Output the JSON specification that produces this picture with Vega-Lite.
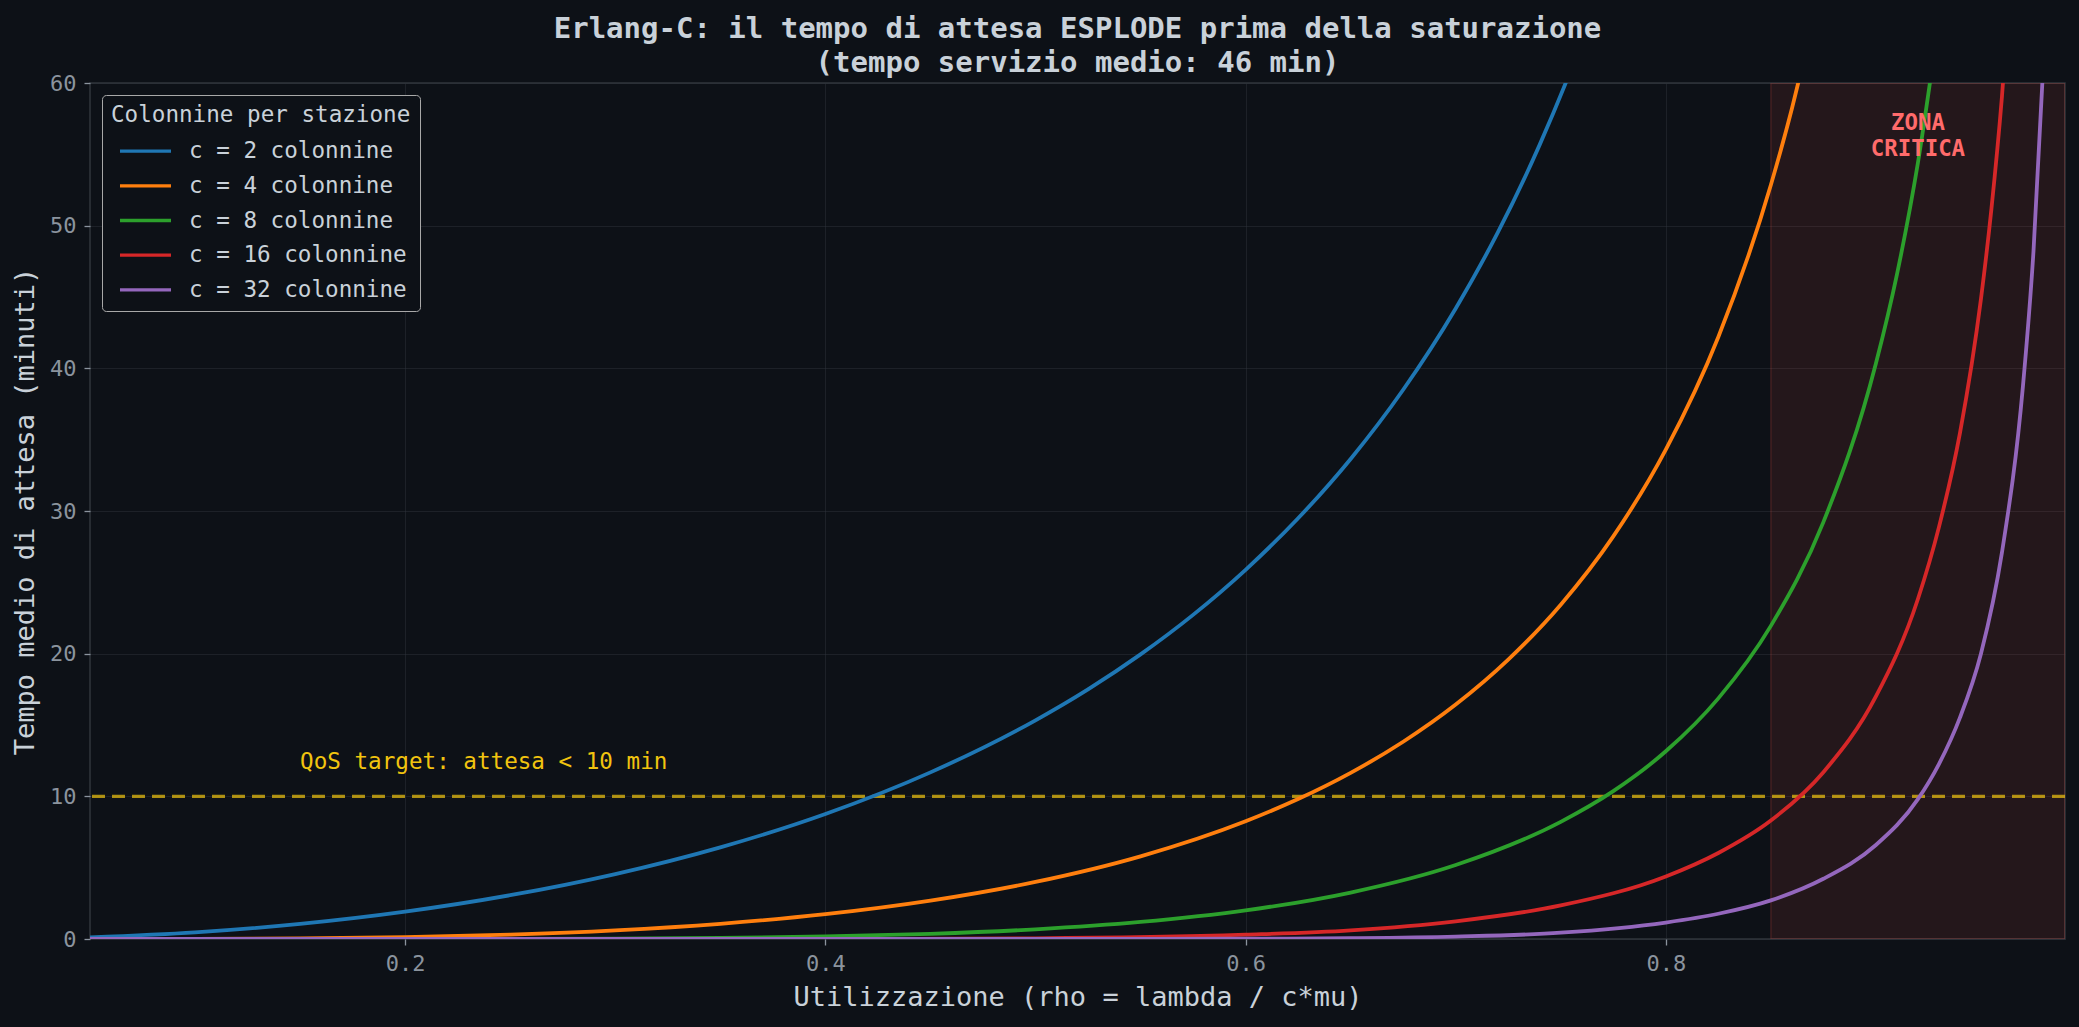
{
  "$schema": "https://vega.github.io/schema/vega-lite/v6.json",
  "width": 1975,
  "height": 856,
  "autosize": {"type": "none"},
  "padding": {"left": 90, "top": 83, "right": 14, "bottom": 88},
  "background": "#0d1117",
  "title": {
    "text": ["Erlang-C: il tempo di attesa ESPLODE prima della saturazione", "(tempo servizio medio: 46 min)"],
    "anchor": "middle",
    "frame": "group",
    "font": "DejaVu Sans Mono",
    "fontSize": 29,
    "fontWeight": "bold",
    "color": "#c9d1d9",
    "lineHeight": 34.5,
    "offset": -6
  },
  "config": {
    "font": "DejaVu Sans Mono",
    "view": {"stroke": "#30363d", "strokeWidth": 1.5, "fill": "#0d1117"},
    "axis": {
      "domain": false,
      "grid": true,
      "gridColor": "#30363d",
      "gridOpacity": 0.45,
      "gridWidth": 1,
      "tickColor": "#8b949e",
      "tickSize": 6,
      "tickWidth": 1.3,
      "labelColor": "#8b949e",
      "labelFont": "DejaVu Sans Mono",
      "labelFontSize": 22,
      "labelPadding": 8,
      "labelFlush": false,
      "titleColor": "#c9d1d9",
      "titleFont": "DejaVu Sans Mono",
      "titleFontSize": 27,
      "titleFontWeight": "normal",
      "titlePadding": 10
    }
  },
  "datasets": {
    "curve": [
      {"rho": 0.05, "wq": 0.115, "serie": "c = 2 colonnine"},
      {"rho": 0.1, "wq": 0.465, "serie": "c = 2 colonnine"},
      {"rho": 0.15, "wq": 1.059, "serie": "c = 2 colonnine"},
      {"rho": 0.2, "wq": 1.917, "serie": "c = 2 colonnine"},
      {"rho": 0.25, "wq": 3.067, "serie": "c = 2 colonnine"},
      {"rho": 0.3, "wq": 4.549, "serie": "c = 2 colonnine"},
      {"rho": 0.35, "wq": 6.422, "serie": "c = 2 colonnine"},
      {"rho": 0.4, "wq": 8.762, "serie": "c = 2 colonnine"},
      {"rho": 0.45, "wq": 11.68, "serie": "c = 2 colonnine"},
      {"rho": 0.5, "wq": 15.33, "serie": "c = 2 colonnine"},
      {"rho": 0.525, "wq": 17.5, "serie": "c = 2 colonnine"},
      {"rho": 0.55, "wq": 19.95, "serie": "c = 2 colonnine"},
      {"rho": 0.575, "wq": 22.72, "serie": "c = 2 colonnine"},
      {"rho": 0.6, "wq": 25.88, "serie": "c = 2 colonnine"},
      {"rho": 0.625, "wq": 29.49, "serie": "c = 2 colonnine"},
      {"rho": 0.65, "wq": 33.65, "serie": "c = 2 colonnine"},
      {"rho": 0.675, "wq": 38.5, "serie": "c = 2 colonnine"},
      {"rho": 0.7, "wq": 44.2, "serie": "c = 2 colonnine"},
      {"rho": 0.72, "wq": 49.51, "serie": "c = 2 colonnine"},
      {"rho": 0.74, "wq": 55.68, "serie": "c = 2 colonnine"},
      {"rho": 0.76, "wq": 62.9, "serie": "c = 2 colonnine"},
      {"rho": 0.78, "wq": 71.47, "serie": "c = 2 colonnine"},

      {"rho": 0.05, "wq": 0.001, "serie": "c = 4 colonnine"},
      {"rho": 0.1, "wq": 0.01, "serie": "c = 4 colonnine"},
      {"rho": 0.15, "wq": 0.047, "serie": "c = 4 colonnine"},
      {"rho": 0.2, "wq": 0.138, "serie": "c = 4 colonnine"},
      {"rho": 0.25, "wq": 0.313, "serie": "c = 4 colonnine"},
      {"rho": 0.3, "wq": 0.609, "serie": "c = 4 colonnine"},
      {"rho": 0.35, "wq": 1.067, "serie": "c = 4 colonnine"},
      {"rho": 0.4, "wq": 1.738, "serie": "c = 4 colonnine"},
      {"rho": 0.45, "wq": 2.688, "serie": "c = 4 colonnine"},
      {"rho": 0.5, "wq": 4.0, "serie": "c = 4 colonnine"},
      {"rho": 0.55, "wq": 5.796, "serie": "c = 4 colonnine"},
      {"rho": 0.6, "wq": 8.253, "serie": "c = 4 colonnine"},
      {"rho": 0.625, "wq": 9.809, "serie": "c = 4 colonnine"},
      {"rho": 0.65, "wq": 11.645, "serie": "c = 4 colonnine"},
      {"rho": 0.675, "wq": 13.825, "serie": "c = 4 colonnine"},
      {"rho": 0.7, "wq": 16.432, "serie": "c = 4 colonnine"},
      {"rho": 0.725, "wq": 19.581, "serie": "c = 4 colonnine"},
      {"rho": 0.75, "wq": 23.43, "serie": "c = 4 colonnine"},
      {"rho": 0.775, "wq": 28.22, "serie": "c = 4 colonnine"},
      {"rho": 0.8, "wq": 34.3, "serie": "c = 4 colonnine"},
      {"rho": 0.825, "wq": 42.2, "serie": "c = 4 colonnine"},
      {"rho": 0.85, "wq": 52.85, "serie": "c = 4 colonnine"},
      {"rho": 0.86, "wq": 58.2, "serie": "c = 4 colonnine"},
      {"rho": 0.87, "wq": 64.4, "serie": "c = 4 colonnine"},

      {"rho": 0.05, "wq": 0, "serie": "c = 8 colonnine"},
      {"rho": 0.1, "wq": 0, "serie": "c = 8 colonnine"},
      {"rho": 0.2, "wq": 0.002, "serie": "c = 8 colonnine"},
      {"rho": 0.25, "wq": 0.009, "serie": "c = 8 colonnine"},
      {"rho": 0.3, "wq": 0.029, "serie": "c = 8 colonnine"},
      {"rho": 0.35, "wq": 0.08, "serie": "c = 8 colonnine"},
      {"rho": 0.4, "wq": 0.177, "serie": "c = 8 colonnine"},
      {"rho": 0.45, "wq": 0.362, "serie": "c = 8 colonnine"},
      {"rho": 0.5, "wq": 0.679, "serie": "c = 8 colonnine"},
      {"rho": 0.55, "wq": 1.195, "serie": "c = 8 colonnine"},
      {"rho": 0.6, "wq": 2.006, "serie": "c = 8 colonnine"},
      {"rho": 0.65, "wq": 3.258, "serie": "c = 8 colonnine"},
      {"rho": 0.7, "wq": 5.187, "serie": "c = 8 colonnine"},
      {"rho": 0.75, "wq": 8.211, "serie": "c = 8 colonnine"},
      {"rho": 0.775, "wq": 10.363, "serie": "c = 8 colonnine"},
      {"rho": 0.8, "wq": 13.157, "serie": "c = 8 colonnine"},
      {"rho": 0.825, "wq": 16.867, "serie": "c = 8 colonnine"},
      {"rho": 0.85, "wq": 21.948, "serie": "c = 8 colonnine"},
      {"rho": 0.875, "wq": 29.22, "serie": "c = 8 colonnine"},
      {"rho": 0.9, "wq": 40.34, "serie": "c = 8 colonnine"},
      {"rho": 0.91, "wq": 46.57, "serie": "c = 8 colonnine"},
      {"rho": 0.92, "wq": 54.41, "serie": "c = 8 colonnine"},
      {"rho": 0.93, "wq": 64.52, "serie": "c = 8 colonnine"},

      {"rho": 0.05, "wq": 0, "serie": "c = 16 colonnine"},
      {"rho": 0.3, "wq": 0, "serie": "c = 16 colonnine"},
      {"rho": 0.4, "wq": 0.005, "serie": "c = 16 colonnine"},
      {"rho": 0.5, "wq": 0.05, "serie": "c = 16 colonnine"},
      {"rho": 0.6, "wq": 0.301, "serie": "c = 16 colonnine"},
      {"rho": 0.65, "wq": 0.605, "serie": "c = 16 colonnine"},
      {"rho": 0.7, "wq": 1.243, "serie": "c = 16 colonnine"},
      {"rho": 0.75, "wq": 2.353, "serie": "c = 16 colonnine"},
      {"rho": 0.8, "wq": 4.383, "serie": "c = 16 colonnine"},
      {"rho": 0.825, "wq": 6.03, "serie": "c = 16 colonnine"},
      {"rho": 0.85, "wq": 8.303, "serie": "c = 16 colonnine"},
      {"rho": 0.875, "wq": 11.695, "serie": "c = 16 colonnine"},
      {"rho": 0.9, "wq": 17.0, "serie": "c = 16 colonnine"},
      {"rho": 0.92, "wq": 23.83, "serie": "c = 16 colonnine"},
      {"rho": 0.93, "wq": 28.87, "serie": "c = 16 colonnine"},
      {"rho": 0.94, "wq": 35.46, "serie": "c = 16 colonnine"},
      {"rho": 0.95, "wq": 44.86, "serie": "c = 16 colonnine"},
      {"rho": 0.955, "wq": 51.2, "serie": "c = 16 colonnine"},
      {"rho": 0.96, "wq": 59.06, "serie": "c = 16 colonnine"},
      {"rho": 0.965, "wq": 69.2, "serie": "c = 16 colonnine"},

      {"rho": 0.05, "wq": 0, "serie": "c = 32 colonnine"},
      {"rho": 0.5, "wq": 0, "serie": "c = 32 colonnine"},
      {"rho": 0.6, "wq": 0.02, "serie": "c = 32 colonnine"},
      {"rho": 0.65, "wq": 0.06, "serie": "c = 32 colonnine"},
      {"rho": 0.7, "wq": 0.17, "serie": "c = 32 colonnine"},
      {"rho": 0.75, "wq": 0.44, "serie": "c = 32 colonnine"},
      {"rho": 0.8, "wq": 1.155, "serie": "c = 32 colonnine"},
      {"rho": 0.825, "wq": 1.77, "serie": "c = 32 colonnine"},
      {"rho": 0.85, "wq": 2.706, "serie": "c = 32 colonnine"},
      {"rho": 0.875, "wq": 4.22, "serie": "c = 32 colonnine"},
      {"rho": 0.9, "wq": 6.587, "serie": "c = 32 colonnine"},
      {"rho": 0.92, "wq": 9.8, "serie": "c = 32 colonnine"},
      {"rho": 0.93, "wq": 12.26, "serie": "c = 32 colonnine"},
      {"rho": 0.94, "wq": 15.52, "serie": "c = 32 colonnine"},
      {"rho": 0.95, "wq": 20.0, "serie": "c = 32 colonnine"},
      {"rho": 0.96, "wq": 27.1, "serie": "c = 32 colonnine"},
      {"rho": 0.97, "wq": 38.78, "serie": "c = 32 colonnine"},
      {"rho": 0.975, "wq": 48.2, "serie": "c = 32 colonnine"},
      {"rho": 0.98, "wq": 62.2, "serie": "c = 32 colonnine"}
    ]
  },
  "layer": [
    {
      "data": {"values": [{"rho": 0.85, "rho_fine": 0.99}]},
      "mark": {"type": "rect", "fill": "#f85149", "fillOpacity": 0.1, "stroke": "#f85149", "strokeOpacity": 0.18, "strokeWidth": 1.5, "clip": true},
      "encoding": {
        "x": {"field": "rho", "type": "quantitative", "scale": {"domain": [0.05, 0.99], "nice": false, "zero": false}, "axis": {"values": [0.2, 0.4, 0.6, 0.8], "format": ".1f"}, "title": "Utilizzazione (rho = lambda / c*mu)"},
        "x2": {"field": "rho_fine"},
        "y": {"datum": 0, "type": "quantitative", "scale": {"domain": [0, 60], "nice": false}, "axis": {"values": [0, 10, 20, 30, 40, 50, 60], "format": "d"}, "title": "Tempo medio di attesa (minuti)"},
        "y2": {"datum": 60}
      }
    },
    {
      "data": {"values": [{"wq": 10}]},
      "mark": {"type": "rule", "stroke": "#f1c40f", "strokeOpacity": 0.7, "strokeWidth": 3.3, "strokeDash": [13, 7]},
      "encoding": {
        "y": {"field": "wq", "type": "quantitative", "title": "Tempo medio di attesa (minuti)"}
      }
    },
    {
      "data": {"name": "curve"},
      "mark": {"type": "line", "strokeWidth": 3.8, "interpolate": "monotone", "clip": true},
      "encoding": {
        "x": {"field": "rho", "type": "quantitative", "title": "Utilizzazione (rho = lambda / c*mu)"},
        "y": {"field": "wq", "type": "quantitative", "title": "Tempo medio di attesa (minuti)"},
        "color": {
          "field": "serie",
          "type": "nominal",
          "scale": {
            "domain": ["c = 2 colonnine", "c = 4 colonnine", "c = 8 colonnine", "c = 16 colonnine", "c = 32 colonnine"],
            "range": ["#1f77b4", "#ff7f0e", "#2ca02c", "#d62728", "#9467bd"]
          },
          "legend": {
            "orient": "top-left",
            "offset": 12,
            "title": "Colonnine per stazione",
            "titleFont": "DejaVu Sans Mono",
            "titleFontSize": 22.6,
            "titleFontWeight": "normal",
            "titleColor": "#c9d1d9",
            "titlePadding": 5,
            "titleLimit": 500,
            "labelFont": "DejaVu Sans Mono",
            "labelFontSize": 22.6,
            "labelColor": "#c9d1d9",
            "labelLimit": 500,
            "symbolType": "M-1.457,0H1.457",
            "symbolSize": 1225,
            "symbolStrokeWidth": 3.3,
            "symbolOffset": 15,
            "labelOffset": 24,
            "rowPadding": 2.7,
            "padding": 9,
            "strokeColor": "#a8a8a8",
            "fillColor": "#0d1117",
            "cornerRadius": 4
          }
        },
        "order": {"field": "rho", "type": "quantitative"}
      }
    },
    {
      "data": {"values": [{"rho": 0.15, "wq": 12.4, "testo": "QoS target: attesa < 10 min"}]},
      "mark": {"type": "text", "align": "left", "baseline": "middle", "font": "DejaVu Sans Mono", "fontSize": 22.6, "color": "#f1c40f"},
      "encoding": {
        "x": {"field": "rho", "type": "quantitative", "title": "Utilizzazione (rho = lambda / c*mu)"},
        "y": {"field": "wq", "type": "quantitative", "title": "Tempo medio di attesa (minuti)"},
        "text": {"field": "testo"}
      }
    },
    {
      "data": {"values": [{"rho": 0.92, "wq": 57.2}]},
      "mark": {"type": "text", "text": ["ZONA", "CRITICA"], "align": "center", "baseline": "middle", "lineHeight": 26, "font": "DejaVu Sans Mono", "fontSize": 22.4, "fontWeight": "bold", "color": "#ff6b6b"},
      "encoding": {
        "x": {"field": "rho", "type": "quantitative", "title": "Utilizzazione (rho = lambda / c*mu)"},
        "y": {"field": "wq", "type": "quantitative", "title": "Tempo medio di attesa (minuti)"}
      }
    }
  ]
}
